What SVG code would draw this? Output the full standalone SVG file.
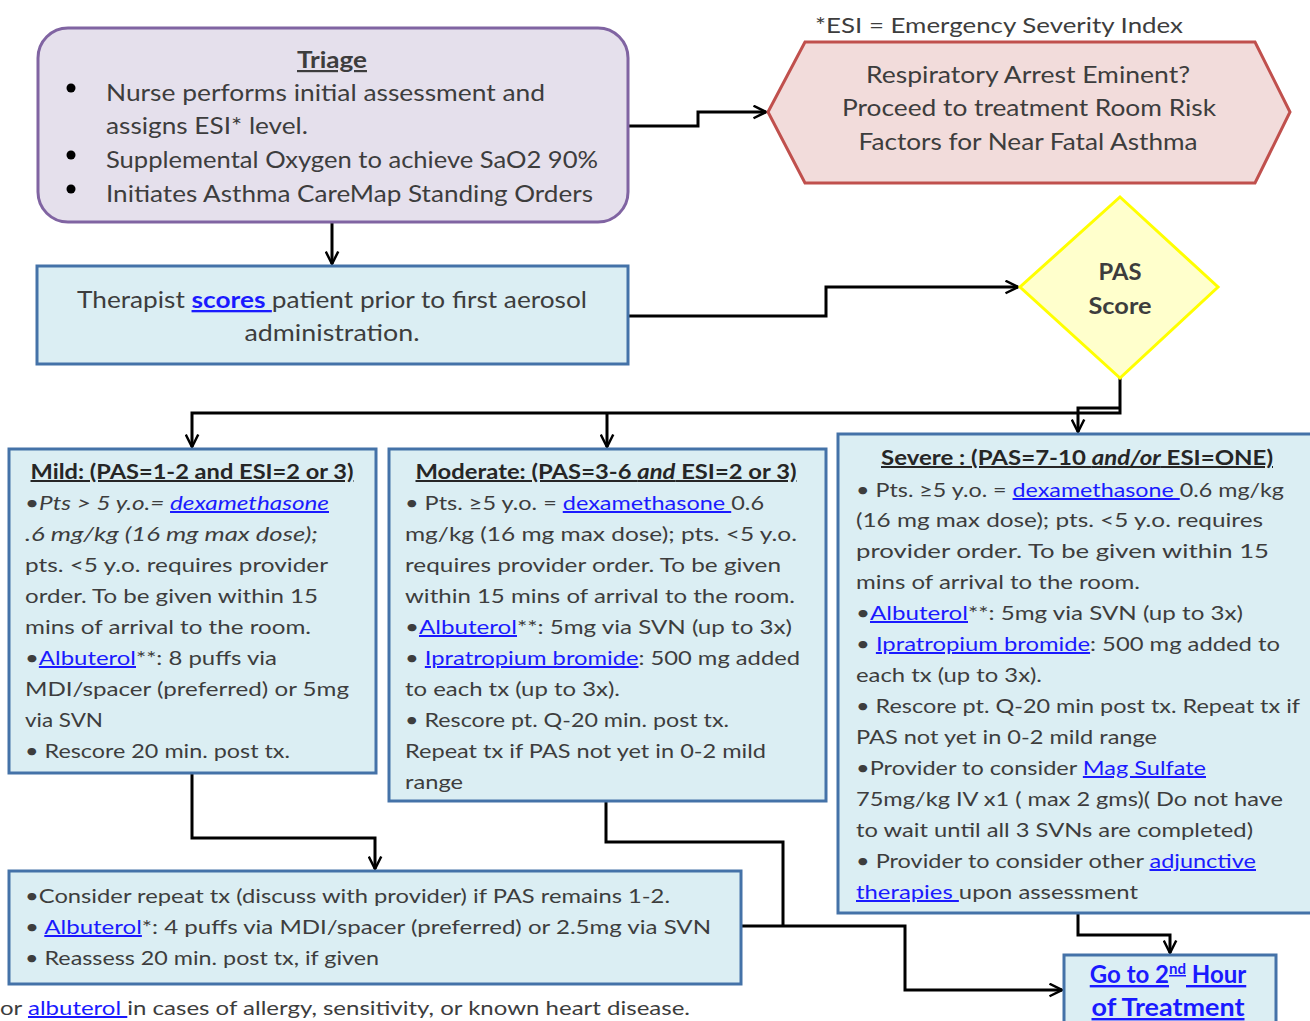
<svg xmlns="http://www.w3.org/2000/svg" width="1310" height="1021" viewBox="0 0 1310 1021">
<style>
text{font-family:Lato,"Liberation Sans",sans-serif;fill:#3d3d3d}
.b{font-size:20px}
.t{font-size:20px;font-weight:bold;fill:#262626;text-decoration:underline}
.lg{font-size:23px}
.lk{fill:#1a1aff;text-decoration:underline}
.it{font-style:italic}
.box{fill:#dbeef3;stroke:#4472a8;stroke-width:3}
.c{fill:none;stroke:#000;stroke-width:3}
</style>
<defs>
<marker id="ar" viewBox="0 0 12 12" refX="11" refY="6" markerWidth="15" markerHeight="15" markerUnits="userSpaceOnUse" orient="auto">
<path d="M1,1 L11,6 L1,11" fill="none" stroke="#000" stroke-width="2"/>
</marker>
</defs>
<rect width="1310" height="1021" fill="#fff"/>

<g id="connectors">
<path class="c" d="M628,126 H698 V112 H766" marker-end="url(#ar)"/>
<path class="c" d="M332,222 V264" marker-end="url(#ar)"/>
<path class="c" d="M628,316 H826 V287 H1018" marker-end="url(#ar)"/>
<path class="c" d="M1120,378 V413 H192 V447" marker-end="url(#ar)"/>
<path class="c" d="M607,413 V447" marker-end="url(#ar)"/>
<path class="c" d="M1120,408 H1078 V432" marker-end="url(#ar)"/>
<path class="c" d="M192,773 V838 H375 V869" marker-end="url(#ar)"/>
<path class="c" d="M606,801 V842 H783 V926"/>
<path class="c" d="M741,926 H905 V990 H1062" marker-end="url(#ar)"/>
<path class="c" d="M1078,913 V935 H1170 V953" marker-end="url(#ar)"/>
</g>

<g id="esi-note">
<text x="815" y="33" font-size="22" textLength="368" lengthAdjust="spacingAndGlyphs">*ESI = Emergency Severity Index</text>
</g>

<g id="triage">
<rect x="38" y="28" width="590" height="194" rx="30" fill="#e5e0ec" stroke="#8064a2" stroke-width="3"/>
<text x="332" y="68" font-size="22" font-weight="bold" fill="#262626" text-anchor="middle" text-decoration="underline" textLength="70" lengthAdjust="spacingAndGlyphs">Triage</text>
<circle cx="71" cy="88" r="4.5" fill="#000"/>
<circle cx="71" cy="155" r="4.5" fill="#000"/>
<circle cx="71" cy="189" r="4.5" fill="#000"/>
<text class="lg" x="106" y="101" textLength="439" lengthAdjust="spacingAndGlyphs">Nurse performs initial assessment and</text>
<text class="lg" x="106" y="134" textLength="202" lengthAdjust="spacingAndGlyphs">assigns ESI* level.</text>
<text class="lg" x="106" y="168" textLength="492" lengthAdjust="spacingAndGlyphs">Supplemental Oxygen to achieve SaO2 90%</text>
<text class="lg" x="106" y="202" textLength="487" lengthAdjust="spacingAndGlyphs">Initiates Asthma CareMap Standing Orders</text>
</g>

<g id="resp-arrest">
<polygon points="768,112 805,42 1255,42 1290,112 1255,183 805,183" fill="#f2dcdb" stroke="#c0504d" stroke-width="3"/>
<text class="lg" x="1028" y="83" text-anchor="middle" textLength="324" lengthAdjust="spacingAndGlyphs">Respiratory Arrest Eminent?</text>
<text class="lg" x="1029" y="116" text-anchor="middle" textLength="374" lengthAdjust="spacingAndGlyphs">Proceed to treatment Room Risk</text>
<text class="lg" x="1028" y="150" text-anchor="middle" textLength="339" lengthAdjust="spacingAndGlyphs">Factors for Near Fatal Asthma</text>
</g>

<g id="therapist">
<rect class="box" x="37" y="266" width="591" height="98"/>
<text class="lg" x="332" y="308" text-anchor="middle" textLength="510" lengthAdjust="spacingAndGlyphs">Therapist <tspan class="lk" font-weight="bold">scores </tspan>patient prior to first aerosol</text>
<text class="lg" x="332" y="341" text-anchor="middle" textLength="175" lengthAdjust="spacingAndGlyphs">administration.</text>
</g>

<g id="pas-score">
<polygon points="1120,197 1218,287 1120,378 1020,287" fill="#ffffcc" stroke="#ffff00" stroke-width="3"/>
<text x="1120" y="280" font-size="23" font-weight="bold" fill="#262626" text-anchor="middle" textLength="43" lengthAdjust="spacingAndGlyphs">PAS</text>
<text x="1120" y="314" font-size="23" font-weight="bold" fill="#262626" text-anchor="middle" textLength="63" lengthAdjust="spacingAndGlyphs">Score</text>
</g>

<g id="mild">
<rect class="box" x="9" y="449" width="367" height="324"/>
<text class="t" x="192" y="479" text-anchor="middle" textLength="323" lengthAdjust="spacingAndGlyphs">Mild: (PAS=1-2 and ESI=2 or 3)</text>
<text class="b it" x="25" y="510" textLength="304" lengthAdjust="spacingAndGlyphs">•Pts &gt; 5 y.o.= <tspan class="lk">dexamethasone</tspan></text>
<text class="b it" x="25" y="541" textLength="293" lengthAdjust="spacingAndGlyphs">.6 mg/kg (16 mg max dose);</text>
<text class="b" x="25" y="572" textLength="303" lengthAdjust="spacingAndGlyphs">pts. &lt;5  y.o. requires provider</text>
<text class="b" x="25" y="603" textLength="293" lengthAdjust="spacingAndGlyphs">order. To be given within 15</text>
<text class="b" x="25" y="634" textLength="286" lengthAdjust="spacingAndGlyphs">mins of arrival to the room.</text>
<text class="b" x="25" y="665" textLength="252" lengthAdjust="spacingAndGlyphs">•<tspan class="lk">Albuterol</tspan>**:  8 puffs via</text>
<text class="b" x="25" y="696" textLength="324" lengthAdjust="spacingAndGlyphs">MDI/spacer (preferred)  or 5mg</text>
<text class="b" x="25" y="727" textLength="78" lengthAdjust="spacingAndGlyphs">via SVN</text>
<text class="b" x="25" y="758" textLength="265" lengthAdjust="spacingAndGlyphs">• Rescore 20 min. post tx.</text>
</g>

<g id="moderate">
<rect class="box" x="389" y="449" width="437" height="352"/>
<text class="t" x="606" y="479" text-anchor="middle" textLength="381" lengthAdjust="spacingAndGlyphs">Moderate: (PAS=3-6 <tspan font-style="italic">and</tspan> ESI=2 or 3)</text>
<text class="b" x="405" y="510" textLength="359" lengthAdjust="spacingAndGlyphs">• Pts. ≥5 y.o. = <tspan class="lk">dexamethasone </tspan>0.6</text>
<text class="b" x="405" y="541" textLength="392" lengthAdjust="spacingAndGlyphs">mg/kg (16 mg max dose); pts. &lt;5  y.o.</text>
<text class="b" x="405" y="572" textLength="376" lengthAdjust="spacingAndGlyphs">requires  provider  order. To be given</text>
<text class="b" x="405" y="603" textLength="390" lengthAdjust="spacingAndGlyphs">within 15 mins of arrival to the room.</text>
<text class="b" x="405" y="634" textLength="387" lengthAdjust="spacingAndGlyphs">•<tspan class="lk">Albuterol</tspan>**:   5mg via SVN (up to 3x)</text>
<text class="b" x="405" y="665" textLength="395" lengthAdjust="spacingAndGlyphs">• <tspan class="lk">Ipratropium  bromide</tspan>: 500 mg added</text>
<text class="b" x="405" y="696" textLength="215" lengthAdjust="spacingAndGlyphs">to each tx (up to 3x).</text>
<text class="b" x="405" y="727" textLength="324" lengthAdjust="spacingAndGlyphs">• Rescore pt. Q-20 min. post tx.</text>
<text class="b" x="405" y="758" textLength="361" lengthAdjust="spacingAndGlyphs">Repeat tx if PAS not yet in 0-2 mild</text>
<text class="b" x="405" y="789" textLength="58" lengthAdjust="spacingAndGlyphs">range</text>
</g>

<g id="severe">
<rect class="box" x="838" y="434" width="476" height="479"/>
<text class="t" x="1077" y="465" text-anchor="middle" textLength="392" lengthAdjust="spacingAndGlyphs">Severe :  (PAS=7-10 <tspan font-style="italic">and/or</tspan> ESI=ONE)</text>
<text class="b" x="856" y="497" textLength="428" lengthAdjust="spacingAndGlyphs">• Pts. ≥5 y.o. = <tspan class="lk">dexamethasone </tspan>0.6 mg/kg</text>
<text class="b" x="856" y="527" textLength="407" lengthAdjust="spacingAndGlyphs">(16 mg max dose); pts. &lt;5  y.o. requires</text>
<text class="b" x="856" y="558" textLength="413" lengthAdjust="spacingAndGlyphs">provider  order. To be given  within  15</text>
<text class="b" x="856" y="589" textLength="284" lengthAdjust="spacingAndGlyphs">mins of arrival to the room.</text>
<text class="b" x="856" y="620" textLength="387" lengthAdjust="spacingAndGlyphs">•<tspan class="lk">Albuterol</tspan>**:   5mg via SVN (up to 3x)</text>
<text class="b" x="856" y="651" textLength="424" lengthAdjust="spacingAndGlyphs">• <tspan class="lk">Ipratropium  bromide</tspan>: 500 mg added to</text>
<text class="b" x="856" y="682" textLength="186" lengthAdjust="spacingAndGlyphs">each tx (up to 3x).</text>
<text class="b" x="856" y="713" textLength="444" lengthAdjust="spacingAndGlyphs">• Rescore pt. Q-20 min post tx. Repeat tx if</text>
<text class="b" x="856" y="744" textLength="301" lengthAdjust="spacingAndGlyphs">PAS not yet in 0-2 mild  range</text>
<text class="b" x="856" y="775" textLength="350" lengthAdjust="spacingAndGlyphs">•Provider to consider <tspan class="lk">Mag Sulfate</tspan></text>
<text class="b" x="856" y="806" textLength="427" lengthAdjust="spacingAndGlyphs">75mg/kg  IV x1 ( max 2 gms)(  Do not have</text>
<text class="b" x="856" y="837" textLength="397" lengthAdjust="spacingAndGlyphs">to wait until all 3 SVNs are completed)</text>
<text class="b" x="856" y="868" textLength="400" lengthAdjust="spacingAndGlyphs">• Provider to consider other <tspan class="lk">adjunctive</tspan></text>
<text class="b" x="856" y="899" textLength="282" lengthAdjust="spacingAndGlyphs"><tspan class="lk">therapies </tspan>upon  assessment</text>
</g>

<g id="repeat">
<rect class="box" x="9" y="871" width="732" height="113"/>
<text class="b" x="25" y="903" textLength="645" lengthAdjust="spacingAndGlyphs">•Consider repeat tx (discuss with provider) if PAS remains 1-2.</text>
<text class="b" x="25" y="934" textLength="686" lengthAdjust="spacingAndGlyphs">• <tspan class="lk">Albuterol</tspan>*: 4 puffs via MDI/spacer (preferred)  or 2.5mg  via SVN</text>
<text class="b" x="25" y="965" textLength="354" lengthAdjust="spacingAndGlyphs">• Reassess 20 min. post tx, if given</text>
</g>

<g id="footnote">
<text class="b" x="0" y="1015" textLength="690" lengthAdjust="spacingAndGlyphs">or <tspan class="lk">albuterol </tspan>in cases of allergy, sensitivity, or known heart disease.</text>
</g>

<g id="second-hour">
<rect class="box" x="1064" y="955" width="212" height="70"/>
<text x="1168" y="983" font-size="24" font-weight="bold" text-anchor="middle" class="lk">Go to 2<tspan font-size="15" dy="-9">nd</tspan><tspan dy="9"> Hour</tspan></text>
<text x="1168" y="1016" font-size="24" font-weight="bold" text-anchor="middle" class="lk" textLength="153" lengthAdjust="spacingAndGlyphs">of Treatment</text>
</g>
</svg>
